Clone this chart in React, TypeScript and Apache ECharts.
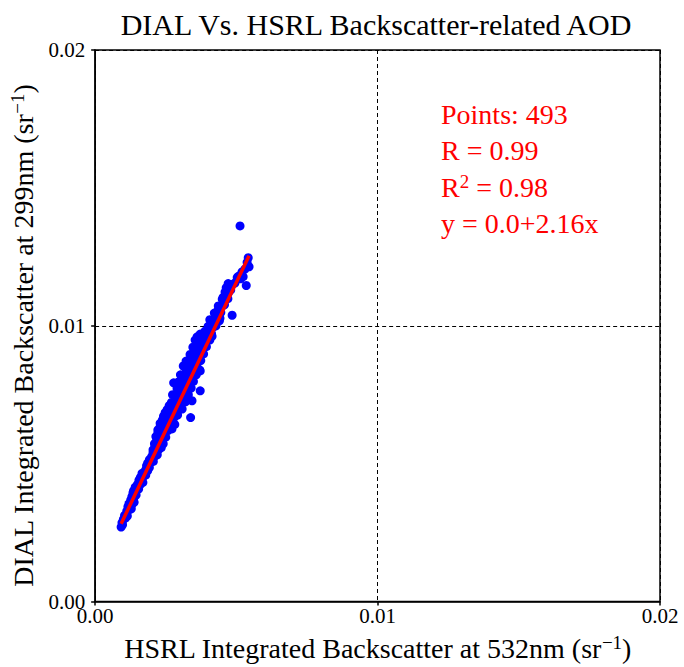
import React, { useEffect, useRef } from "react";
import * as echarts from "echarts";

const titleText = "DIAL Vs. HSRL Backscatter-related AOD";
const xAxisName = "HSRL Integrated Backscatter at 532nm (sr{sup|−1})";
const yAxisName = "DIAL Integrated Backscatter at 299nm (sr{sup|−1})";
const statLines = ["Points: 493", "R = 0.99", "R{sup|2} = 0.98", "y = 0.0+2.16x"];

// [HSRL 532nm, DIAL 299nm] integrated backscatter (sr^-1)
const points: [number, number][] = [
  [0.00092, 0.0027], [0.00097, 0.00278], [0.00095, 0.00286],
  [0.001, 0.00298], [0.00107, 0.00302], [0.00114, 0.0031], [0.00104, 0.00312],
  [0.00112, 0.00328], [0.0012, 0.00332], [0.00128, 0.00336], [0.00116, 0.00344],
  [0.0012, 0.00355], [0.0013, 0.00352], [0.00138, 0.0036], [0.00126, 0.00368],
  [0.0013, 0.0038], [0.00138, 0.00378], [0.00145, 0.00386], [0.00134, 0.00394],
  [0.00136, 0.00402], [0.00146, 0.00404], [0.00154, 0.00408], [0.00142, 0.00415],
  [0.0015, 0.00425], [0.0016, 0.00424], [0.00169, 0.00432], [0.00155, 0.0044],
  [0.0016, 0.0045], [0.0017, 0.00452], [0.00179, 0.00458], [0.00166, 0.00465],
  [0.00178, 0.00476], [0.00186, 0.00474], [0.00192, 0.00486], [0.00182, 0.00492],
  [0.00186, 0.00502], [0.00195, 0.00504], [0.00206, 0.00508], [0.00192, 0.00514],
  [0.002, 0.00525], [0.0021, 0.00526], [0.0022, 0.00532], [0.00205, 0.0054],
  [0.00205, 0.0055], [0.00215, 0.00548], [0.00226, 0.00552], [0.00234, 0.00558], [0.00212, 0.00562],
  [0.0021, 0.00572], [0.00222, 0.0057], [0.00232, 0.00576], [0.00241, 0.00572], [0.00218, 0.00584],
  [0.00215, 0.00598], [0.00226, 0.00595], [0.00238, 0.006], [0.0025, 0.00596], [0.00222, 0.0061],
  [0.00222, 0.00622], [0.00234, 0.00618], [0.00246, 0.00624], [0.00258, 0.0062], [0.00272, 0.00626], [0.0023, 0.00634],
  [0.0023, 0.00646], [0.00242, 0.00644], [0.00255, 0.0065], [0.00268, 0.00646], [0.00282, 0.00642], [0.00238, 0.00658],
  [0.00242, 0.00672], [0.00255, 0.0067], [0.00268, 0.00674], [0.0028, 0.00668], [0.00292, 0.00676], [0.00338, 0.00667], [0.00248, 0.00685],
  [0.00255, 0.00696], [0.00268, 0.00695], [0.0028, 0.007], [0.00294, 0.00694], [0.00308, 0.00698], [0.00262, 0.0071],
  [0.0027, 0.00722], [0.00282, 0.0072], [0.00296, 0.00726], [0.00308, 0.00718], [0.0032, 0.00724], [0.00343, 0.00728],
  [0.00285, 0.00746], [0.00298, 0.00744], [0.0031, 0.0075], [0.00322, 0.00744], [0.0033, 0.0075], [0.00274, 0.0075],
  [0.0029, 0.00772], [0.00302, 0.0077], [0.00314, 0.00776], [0.00328, 0.0077], [0.0034, 0.00774], [0.00372, 0.00764],
  [0.00278, 0.00793], [0.00295, 0.00796], [0.00308, 0.00795], [0.0032, 0.008], [0.00334, 0.00794], [0.00348, 0.00798],
  [0.00302, 0.00822], [0.00314, 0.0082], [0.00328, 0.00826], [0.00342, 0.00818], [0.00358, 0.00822], [0.00372, 0.00836],
  [0.00312, 0.00854], [0.00322, 0.00844], [0.00335, 0.0085], [0.00348, 0.00844], [0.00362, 0.00848], [0.0037, 0.0084],
  [0.00322, 0.00872], [0.00335, 0.0087], [0.00348, 0.00876], [0.0036, 0.00868], [0.00374, 0.00874],
  [0.00336, 0.00896], [0.00347, 0.0089], [0.00358, 0.009], [0.0037, 0.00894], [0.00384, 0.00898],
  [0.00346, 0.00922], [0.00358, 0.00918], [0.0037, 0.00926], [0.00382, 0.0092], [0.00394, 0.00924],
  [0.00354, 0.00948], [0.00365, 0.00944], [0.00378, 0.0095], [0.0039, 0.00944], [0.00406, 0.00948],
  [0.00361, 0.0096], [0.00372, 0.0097], [0.00386, 0.00974], [0.00398, 0.00968], [0.00412, 0.00972], [0.00414, 0.00962],
  [0.00389, 0.0098], [0.004, 0.00998], [0.0041, 0.00995], [0.00418, 0.00995], [0.00428, 0.01],
  [0.00406, 0.01022], [0.00418, 0.0102], [0.0043, 0.01026], [0.0044, 0.01018],
  [0.00422, 0.01046], [0.00435, 0.01056], [0.00445, 0.01048], [0.00442, 0.01027], [0.00485, 0.01038],
  [0.00436, 0.01072], [0.00448, 0.0107], [0.00458, 0.01076],
  [0.0045, 0.01096], [0.00453, 0.01103], [0.00464, 0.0111], [0.0047, 0.01098],
  [0.0046, 0.01122], [0.00472, 0.0112], [0.0048, 0.0113], [0.00464, 0.01138],
  [0.00471, 0.01153], [0.00485, 0.0115], [0.00495, 0.01155], [0.00503, 0.01175], [0.00535, 0.01146],
  [0.00508, 0.0118], [0.00515, 0.0117], [0.00524, 0.01178], [0.0052, 0.01195],
  [0.0053, 0.01205], [0.00538, 0.0123], [0.00545, 0.01214], [0.00542, 0.01247], [0.00513, 0.01362],
];

// fitted regression line end points
const fitLine: [number, number][] = [
  [0.00092, 0.00282],
  [0.00545, 0.01254],
];

const FONT = "Liberation Serif";

export default function App() {
  const ref = useRef<HTMLDivElement>(null);
  useEffect(() => {
    if (!ref.current) return;
    const chart = echarts.init(ref.current, null, { renderer: "svg" });
    const supRich = {
      sup: { fontFamily: FONT, fontSize: 19, verticalAlign: "top", padding: [0, 0, 12, 0], color: "#000" },
    };
    const axisCommon = {
      type: "value",
      min: 0,
      max: 0.02,
      interval: 0.01,
      nameLocation: "middle",
      axisLine: { show: true, lineStyle: { color: "#000", width: 1.5 } },
      axisTick: { show: true, length: 4, lineStyle: { color: "#000", width: 1.5 } },
      splitLine: { show: true, lineStyle: { color: "#000", type: [4, 3], width: 1 } },
    };
    chart.setOption({
      animation: false,
      backgroundColor: "#fff",
      grid: {
        left: 95,
        right: 24,
        top: 50,
        bottom: 62,
        show: true,
        borderColor: "#000",
        borderWidth: 1.5,
        backgroundColor: "transparent",
      },
      xAxis: {
        ...axisCommon,
        name: xAxisName,
        nameGap: 31,
        nameTextStyle: { fontFamily: FONT, fontSize: 28, color: "#000", rich: supRich },
        axisLabel: {
          fontFamily: FONT,
          fontSize: 21,
          color: "#000",
          margin: 4,
          formatter: (v: number) => v.toFixed(2),
        },
      },
      yAxis: {
        ...axisCommon,
        name: yAxisName,
        nameRotate: 90,
        nameGap: 52,
        nameTextStyle: { fontFamily: FONT, fontSize: 28, color: "#000", rich: supRich, padding: [0, 20, 0, 0] },
        axisLabel: {
          fontFamily: FONT,
          fontSize: 21,
          color: "#000",
          margin: 10,
          formatter: (v: number) => v.toFixed(2),
        },
      },
      graphic: [
        {
          type: "text",
          x: 376,
          y: 24,
          style: {
            text: titleText,
            fontFamily: FONT,
            fontSize: 30,
            fill: "#000",
            textAlign: "center",
            textVerticalAlign: "middle",
          },
        },
        ...statLines.map((t, i) => ({
          type: "text",
          x: 441,
          y: 114 + i * 36.5,
          z: 10,
          style: {
            text: t,
            fontFamily: FONT,
            fontSize: 28,
            fill: "#ff0000",
            textAlign: "left",
            textVerticalAlign: "middle",
            rich: {
              sup: { fontFamily: FONT, fontSize: 19, fill: "#ff0000", padding: [0, 0, 12, 0] },
            },
          },
        })),
      ],
      series: [
        {
          type: "scatter",
          data: points,
          symbol: "circle",
          symbolSize: 9,
          itemStyle: { color: "#0000ff", opacity: 1 },
          z: 2,
        },
        {
          type: "line",
          data: fitLine,
          symbol: "none",
          lineStyle: { color: "#ff0000", width: 3.5 },
          z: 3,
        },
      ],
    });
    return () => chart.dispose();
  }, []);
  return (
    <div
      ref={ref}
      style={{ position: "absolute", left: 0, top: 0, width: 684, height: 667 }}
    />
  );
}
